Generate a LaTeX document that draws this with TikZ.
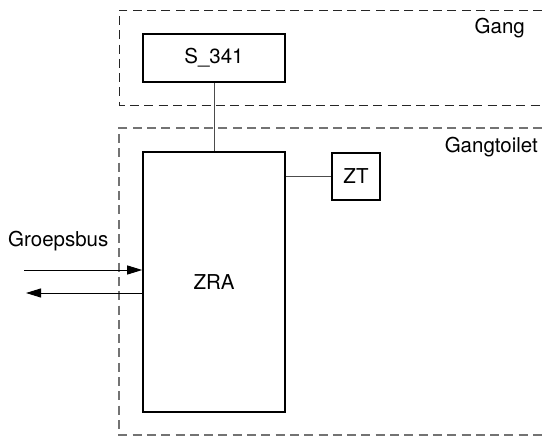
\documentclass[tikz,border=0pt]{standalone}
\usepackage{fontspec}
\setmainfont{TeX Gyre Heros}
\usetikzlibrary{arrows.meta}
\begin{document}
\begin{tikzpicture}[x=1pt,y=-1pt,
  box/.style={draw=black,line width=1.6pt,inner sep=0pt},
  region/.style={line width=0.9pt,dash pattern=on 9pt off 5.3pt},
  lbl/.style={font=\fontsize{20.5}{24}\selectfont,inner sep=0pt},
  conn/.style={draw=black!70,line width=1pt},
  arr/.style={draw=black,line width=1pt,-{Triangle[length=15pt,width=9pt]}}]
\useasboundingbox (0,0) rectangle (542,436);
% regions
\draw[region,black!85] (542,10) -- (119,10) -- (119,105) -- (542,105);
\draw[region,black!55,line width=1.3pt] (542,128) -- (119,128) -- (119,435) -- (542,435);
\node[lbl,anchor=east] (gang) at (525,28) {Gang};
\node[lbl,anchor=east] (gt) at (538,147) {Gangtoilet};
% boxes
\node[box,minimum width=142pt,minimum height=48pt,lbl] (s) at (214,58) {S\_341};
\node[box,minimum width=142pt,minimum height=260pt,lbl] (zra) at (214,282) {ZRA};
\node[box,minimum width=48pt,minimum height=47pt,lbl] (zt) at (356,176.5) {ZT};
% connectors
\draw[conn] (s.south) -- (zra.north);
\draw[conn] (zra.east |- zt.west) -- (zt.west);
\coordinate (inS) at (24,270);
\coordinate (outE) at (26,293);
\draw[arr] (inS) -- (inS -| zra.west);
\draw[arr] (outE -| zra.west) -- (outE);
\node[lbl,anchor=west] (gb) at (8,241) {Groepsbus};
\end{tikzpicture}
\end{document}
